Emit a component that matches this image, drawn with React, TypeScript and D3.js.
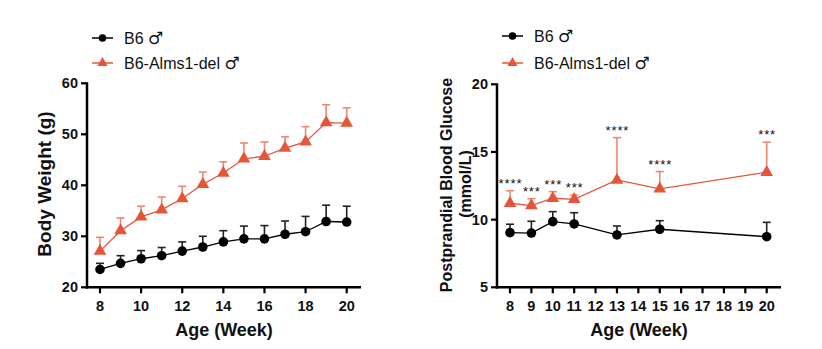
import React from "react";
import * as d3 from "d3";

const bwWeeks = [8, 9, 10, 11, 12, 13, 14, 15, 16, 17, 18, 19, 20];
const bwB6 = [23.5, 24.7, 25.6, 26.2, 27.1, 27.9, 28.9, 29.5, 29.5, 30.4, 30.9, 32.9, 32.8];
const bwB6Err = [1.2, 1.5, 1.6, 1.6, 1.8, 2.1, 2.2, 2.5, 2.6, 2.6, 3.0, 3.2, 3.1];
const bwDel = [27.1, 31.1, 33.8, 35.2, 37.4, 40.2, 42.4, 45.2, 45.7, 47.3, 48.5, 52.3, 52.2];
const bwDelErr = [2.7, 2.5, 2.1, 2.5, 2.4, 2.4, 2.2, 3.1, 2.8, 2.2, 3.0, 3.5, 3.0];
const bwXTicks = [8, 10, 12, 14, 16, 18, 20];
const bwYTicks = [20, 30, 40, 50, 60];

const gluWeeks = [8, 9, 10, 11, 13, 15, 20];
const gluB6 = [9.04, 9.01, 9.85, 9.68, 8.87, 9.29, 8.74];
const gluB6Err = [0.62, 0.87, 0.74, 0.83, 0.66, 0.63, 1.06];
const gluDel = [11.21, 11.03, 11.58, 11.5, 12.93, 12.27, 13.5];
const gluDelErr = [0.93, 0.52, 0.49, 0.32, 3.13, 1.28, 2.22];
const gluSig = ["****", "***", "***", "***", "****", "****", "***"];
const gluXTicks = [8, 9, 10, 11, 12, 13, 14, 15, 16, 17, 18, 19, 20];
const gluYTicks = [5, 10, 15, 20];

const seriesNames = ["B6", "B6-Alms1-del"];
const maleSign = "\u2642\uFE0E";

const RED = "#E4563A";
const RED_ERR = "#EC8874";
const BLACK = "#000000";
const FONT = "'Liberation Sans', Arial, sans-serif";

type PanelProps = {
  weeks: number[];
  b6: number[];
  b6Err: number[];
  del: number[];
  delErr: number[];
  xTicks: number[];
  yTicks: number[];
  xDomainPx: [number, number];
  xAxisPx: [number, number];
  yDomain: [number, number];
  yRange: [number, number];
  legendX: number;
  legendY: [number, number];
  sig?: string[];
  yTitle: React.ReactNode;
};

function Triangle({ cx, cy, s, fill }: { cx: number; cy: number; s: number; fill: string }) {
  const sym = d3.symbol().type(d3.symbolTriangle).size(s)();
  return <path d={sym as string} transform={`translate(${cx},${cy})`} fill={fill} />;
}

function LegendLabel({ x, y, name }: { x: number; y: number; name: string }) {
  return (
    <text x={x} y={y} fontSize={16} fill="#111" fontFamily={FONT}>
      {name + " "}
      <tspan fontFamily="'DejaVu Sans', sans-serif" fontSize={17} fill="#111">
        {maleSign}
      </tspan>
    </text>
  );
}

function Panel(p: PanelProps) {
  const x = d3.scaleLinear().domain([8, 20]).range(p.xDomainPx);
  const y = d3.scaleLinear().domain(p.yDomain).range(p.yRange);
  const line = d3
    .line<number>()
    .x((_, i) => x(p.weeks[i]))
    .y((v) => y(v));
  const axisY = p.yRange[0];
  const axisX = p.xAxisPx[0];
  const capW = 8;

  const errBars = (vals: number[], errs: number[], color: string) =>
    vals.map((v, i) => {
      const cx = x(p.weeks[i]);
      const top = y(v + errs[i]);
      return (
        <g key={i} stroke={color} strokeWidth={1.6}>
          <line x1={cx} x2={cx} y1={y(v)} y2={top} />
          <line x1={cx - capW / 2} x2={cx + capW / 2} y1={top} y2={top} />
        </g>
      );
    });

  return (
    <g fontFamily={FONT}>
      {/* legend */}
      <g>
        <line x1={p.legendX} x2={p.legendX + 21} y1={p.legendY[0]} y2={p.legendY[0]} stroke={BLACK} strokeWidth={1.5} />
        <circle cx={p.legendX + 10.5} cy={p.legendY[0]} r={3.8} fill={BLACK} />
        <LegendLabel x={p.legendX + 32} y={p.legendY[0] + 5.8} name={seriesNames[0]} />
        <line x1={p.legendX} x2={p.legendX + 21} y1={p.legendY[1]} y2={p.legendY[1]} stroke={RED} strokeWidth={1.5} />
        <Triangle cx={p.legendX + 10.5} cy={p.legendY[1]} s={45} fill={RED} />
        <LegendLabel x={p.legendX + 32} y={p.legendY[1] + 5.8} name={seriesNames[1]} />
      </g>

      {/* error bars */}
      {errBars(p.del, p.delErr, RED_ERR)}
      {errBars(p.b6, p.b6Err, "#222")}

      {/* lines */}
      <path d={line(p.del) as string} fill="none" stroke={RED} strokeWidth={1.3} />
      <path d={line(p.b6) as string} fill="none" stroke={BLACK} strokeWidth={1.3} />

      {/* markers */}
      {p.del.map((v, i) => (
        <Triangle key={"t" + i} cx={x(p.weeks[i])} cy={y(v)} s={70} fill={RED} />
      ))}
      {p.b6.map((v, i) => (
        <circle key={"c" + i} cx={x(p.weeks[i])} cy={y(v)} r={4.8} fill={BLACK} />
      ))}

      {/* significance */}
      {p.sig &&
        p.sig.map((s, i) => (
          <text
            key={"s" + i}
            x={x(p.weeks[i]) + 0.45}
            y={y(p.del[i] + p.delErr[i]) - 10.5 + 7.6}
            fontSize={13}
            letterSpacing={0.9}
            textAnchor="middle"
            fill="#111"
          >
            {s}
          </text>
        ))}

      {/* axes */}
      <line x1={axisX} x2={axisX} y1={p.yRange[1] - 1} y2={axisY + 1.25} stroke={BLACK} strokeWidth={2.5} />
      <line x1={p.xAxisPx[0] - 1.25} x2={p.xAxisPx[1]} y1={axisY} y2={axisY} stroke={BLACK} strokeWidth={2.5} />
      {p.yTicks.map((t) => (
        <g key={"yt" + t}>
          <line x1={axisX - 6} x2={axisX} y1={y(t)} y2={y(t)} stroke={BLACK} strokeWidth={2.2} />
          <text x={axisX - 9} y={y(t) + 5} fontSize={14.5} fontWeight="bold" textAnchor="end" fill="#111">
            {t}
          </text>
        </g>
      ))}
      {p.xTicks.map((t) => (
        <g key={"xt" + t}>
          <line x1={x(t)} x2={x(t)} y1={axisY} y2={axisY + 6} stroke={BLACK} strokeWidth={2.2} />
          <text x={x(t)} y={311} fontSize={14.5} fontWeight="bold" textAnchor="middle" fill="#111">
            {t}
          </text>
        </g>
      ))}
      <text
        x={(p.xAxisPx[0] + p.xAxisPx[1]) / 2}
        y={335.5}
        fontSize={18}
        fontWeight="bold"
        textAnchor="middle"
        fill="#111"
      >
        Age (Week)
      </text>
      {p.yTitle}
    </g>
  );
}

export default function App() {
  return (
    <svg
      width={822}
      height={349}
      viewBox="0 0 822 349"
      style={{ position: "absolute", left: 0, top: 0, background: "#fff" }}
    >
      <rect width={822} height={349} fill="#fff" />
      <Panel
        weeks={bwWeeks}
        b6={bwB6}
        b6Err={bwB6Err}
        del={bwDel}
        delErr={bwDelErr}
        xTicks={bwXTicks}
        yTicks={bwYTicks}
        xDomainPx={[100, 346.7]}
        xAxisPx={[87, 361]}
        yDomain={[20, 60]}
        yRange={[287.3, 83.3]}
        legendX={92}
        legendY={[38, 63]}
        yTitle={
          <text
            transform="translate(51,184) rotate(-90)"
            fontSize={19}
            fontWeight="bold"
            textAnchor="middle"
            fill="#111"
            fontFamily={FONT}
          >
            Body Weight (g)
          </text>
        }
      />
      <Panel
        weeks={gluWeeks}
        b6={gluB6}
        b6Err={gluB6Err}
        del={gluDel}
        delErr={gluDelErr}
        xTicks={gluXTicks}
        yTicks={gluYTicks}
        xDomainPx={[510, 766.7]}
        xAxisPx={[497, 781]}
        yDomain={[5, 20]}
        yRange={[287.3, 84.3]}
        legendX={502}
        legendY={[36, 63]}
        sig={gluSig}
        yTitle={
          <g fontFamily={FONT} fontSize={16} fontWeight="bold" fill="#111" textAnchor="middle">
            <text transform="translate(451.5,185) rotate(-90)">Postprandial Blood Glucose</text>
            <text transform="translate(470.5,184) rotate(-90)">(mmol/L)</text>
          </g>
        }
      />
    </svg>
  );
}
